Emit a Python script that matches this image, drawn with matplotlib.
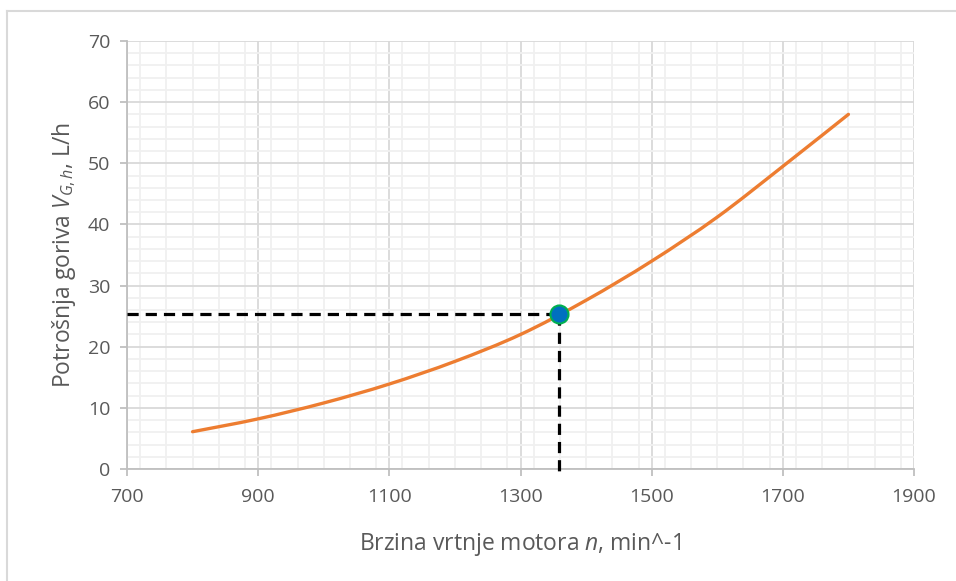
import matplotlib
matplotlib.use("Agg")
import matplotlib.pyplot as plt
from matplotlib.ticker import MultipleLocator
from matplotlib.lines import Line2D
from matplotlib.path import Path
from matplotlib.patches import PathPatch

plt.rcParams['font.family'] = ['Open Sans', 'DejaVu Sans']
plt.rcParams['mathtext.fontset'] = 'custom'
plt.rcParams['mathtext.rm'] = 'Open Sans'
plt.rcParams['mathtext.it'] = 'Open Sans:italic'

# data
speed = [800, 900, 1000, 1100, 1200, 1300, 1400, 1500, 1600, 1700, 1800]
consumption = [6.1, 8.2, 10.8, 13.9, 17.6, 22.0, 27.6, 34.0, 41.2, 49.5, 58.0]
op_speed = 1358.5
op_cons = 25.35
x_ticks = [700, 900, 1100, 1300, 1500, 1700, 1900]
y_ticks = [0, 10, 20, 30, 40, 50, 60, 70]

W, H = 956, 581
fig = plt.figure(figsize=(W / 100, H / 100), dpi=100)
ax = fig.add_axes([127 / W, 1 - 469 / H, (914 - 127) / W, (469 - 41) / H])

ax.set_xlim(700, 1900)
ax.set_ylim(0, 70)
ax.set_xticks(x_ticks)
ax.set_yticks(y_ticks)
ax.xaxis.set_minor_locator(MultipleLocator(40))
ax.yaxis.set_minor_locator(MultipleLocator(2))
ax.grid(which='major', color='#d9d9d9', lw=1.3, zorder=0)
ax.grid(which='minor', color='#f0f0f0', lw=1.3, zorder=0)
ax.set_axisbelow(True)

for s in ['top', 'right']:
    ax.spines[s].set_visible(False)
for s in ['left', 'bottom']:
    ax.spines[s].set_color('#bfbfbf')
    ax.spines[s].set_linewidth(1.3)

ax.tick_params(which='major', direction='out', length=5, width=1.3, color='#bfbfbf',
               labelsize=14, labelcolor='#595959')
ax.tick_params(axis='x', which='major', pad=9)
ax.tick_params(axis='y', which='major', pad=7)
ax.tick_params(which='minor', length=0)

# smoothed line through the data points (Excel-style smoothing, Catmull-Rom -> Bezier)
verts = [(speed[0], consumption[0])]
codes = [Path.MOVETO]
n = len(speed)
for i in range(n - 1):
    p0 = (speed[max(i - 1, 0)], consumption[max(i - 1, 0)])
    p1 = (speed[i], consumption[i])
    p2 = (speed[i + 1], consumption[i + 1])
    p3 = (speed[min(i + 2, n - 1)], consumption[min(i + 2, n - 1)])
    c1 = (p1[0] + (p2[0] - p0[0]) / 6, p1[1] + (p2[1] - p0[1]) / 6)
    c2 = (p2[0] - (p3[0] - p1[0]) / 6, p2[1] - (p3[1] - p1[1]) / 6)
    verts += [c1, c2, p2]
    codes += [Path.CURVE4, Path.CURVE4, Path.CURVE4]
ax.add_patch(PathPatch(Path(verts, codes), fill=False, edgecolor='#ED7D31', lw=2.4,
                       capstyle='round', zorder=3))

ax.plot([700, op_speed], [op_cons, op_cons], color='black', lw=2.3,
        dashes=(3.5, 2.2), zorder=4, clip_on=False)
ax.plot([op_speed, op_speed], [op_cons, -0.5], color='black', lw=2.3,
        dashes=(3.5, 2.2), zorder=4, clip_on=False)
ax.plot([op_speed], [op_cons], marker='o', ms=13, mfc='#0070C0', mec='#00B050',
        mew=1.5, zorder=5, clip_on=False)

ax.set_xlabel(r'Brzina vrtnje motora $\mathit{n}$, min^-1', fontsize=16.5,
              color='#595959', labelpad=18)
ax.set_ylabel(r'Potrošnja goriva $\mathit{V}_{\mathit{G,h}}$, L/h', fontsize=16.5,
              color='#595959', labelpad=7)

# outer chart border (top and left edges visible)
fig.add_artist(Line2D([7 / W, 1], [1 - 11 / H, 1 - 11 / H], color='#d9d9d9', lw=1.5))
fig.add_artist(Line2D([7 / W, 7 / W], [0, 1 - 11 / H], color='#d9d9d9', lw=1.5))

fig.savefig('out.png', dpi=100)
